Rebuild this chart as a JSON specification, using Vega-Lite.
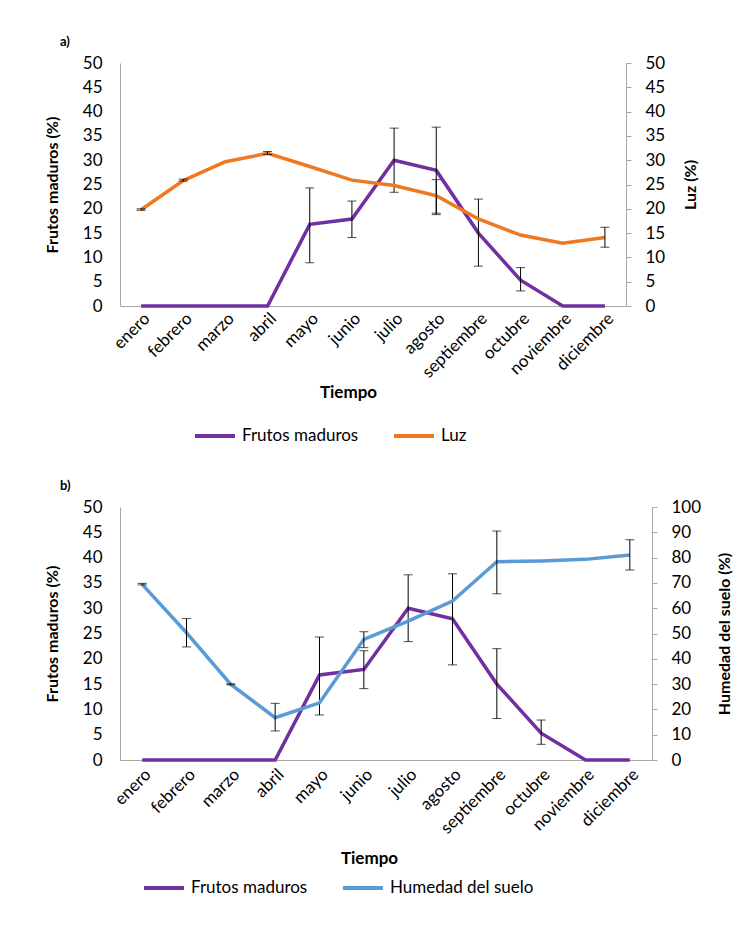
{
  "$schema": "https://vega.github.io/schema/vega-lite/v6.json",
  "background": "white",
  "padding": {"left": 44, "top": 36, "right": 5, "bottom": 5},
  "spacing": 36,
  "config": {
    "font": "Lato",
    "view": {"stroke": null},
    "axis": {
      "labelFont": "Lato", "titleFont": "Lato", "labelFontSize": 17, "titleFontSize": 16,
      "labelColor": "#000", "titleColor": "#000", "titleFontWeight": "bold",
      "grid": false, "domainColor": "#a6a6a6", "tickColor": "#a6a6a6", "labelOverlap": false
    },
    "legend": {
      "orient": "none", "direction": "horizontal", "symbolType": "stroke",
      "symbolStrokeWidth": 4, "symbolSize": 1600, "labelFont": "Lato", "labelFontSize": 17,
      "labelColor": "#000", "columnPadding": 27, "labelOffset": 5, "title": null
    },
    "title": {"anchor": "start", "frame": "group", "font": "Lato", "fontSize": 13, "fontWeight": "bold", "dx": -60, "offset": 5, "color": "#000"}
  },
  "datasets": {
    "main": [
      {"mes": "enero", "frutos": 0, "luz": 19.8, "humedad": 69.4},
      {"mes": "febrero", "frutos": 0, "luz": 25.8, "humedad": 50.3},
      {"mes": "marzo", "frutos": 0, "luz": 29.7, "humedad": 29.9},
      {"mes": "abril", "frutos": 0, "luz": 31.4, "humedad": 16.7},
      {"mes": "mayo", "frutos": 16.8, "luz": 28.7, "humedad": 22.6},
      {"mes": "junio", "frutos": 17.9, "luz": 25.9, "humedad": 47.7},
      {"mes": "julio", "frutos": 30.0, "luz": 24.8, "humedad": 54.9},
      {"mes": "agosto", "frutos": 27.9, "luz": 22.7, "humedad": 62.8},
      {"mes": "septiembre", "frutos": 15.0, "luz": 17.9, "humedad": 78.4},
      {"mes": "octubre", "frutos": 5.3, "luz": 14.6, "humedad": 78.7},
      {"mes": "noviembre", "frutos": 0, "luz": 12.9, "humedad": 79.3},
      {"mes": "diciembre", "frutos": 0, "luz": 14.1, "humedad": 81.0}
    ],
    "frutos_err": [
      {"mes": "mayo", "lo": 8.9, "hi": 24.3},
      {"mes": "junio", "lo": 14.1, "hi": 21.6},
      {"mes": "julio", "lo": 23.4, "hi": 36.6},
      {"mes": "agosto", "lo": 18.8, "hi": 36.8},
      {"mes": "septiembre", "lo": 8.2, "hi": 22.0},
      {"mes": "octubre", "lo": 3.1, "hi": 7.9}
    ],
    "luz_err": [
      {"mes": "enero", "lo": 19.7, "hi": 20.0},
      {"mes": "febrero", "lo": 25.7, "hi": 26.1},
      {"mes": "abril", "lo": 31.2, "hi": 31.8},
      {"mes": "agosto", "lo": 19.1, "hi": 26.0},
      {"mes": "diciembre", "lo": 12.1, "hi": 16.2}
    ],
    "hum_err": [
      {"mes": "enero", "lo": 69.2, "hi": 69.8},
      {"mes": "febrero", "lo": 44.7, "hi": 55.9},
      {"mes": "marzo", "lo": 29.7, "hi": 30.1},
      {"mes": "abril", "lo": 11.5, "hi": 22.4},
      {"mes": "junio", "lo": 44.4, "hi": 50.7},
      {"mes": "septiembre", "lo": 65.7, "hi": 90.5},
      {"mes": "diciembre", "lo": 75.1, "hi": 87.1}
    ]
  },
  "vconcat": [
    {
      "width": 506, "height": 243,
      "title": {"text": "a)"},
      "layer": [
        {
          "layer": [
            {
              "data": {"name": "main"},
              "mark": {"type": "line", "strokeWidth": 3.5},
              "encoding": {
                "x": {"field": "mes", "type": "ordinal", "scale": {"type": "point", "padding": 0.5, "domain": ["enero","febrero","marzo","abril","mayo","junio","julio","agosto","septiembre","octubre","noviembre","diciembre"]},
                      "axis": {"title": "Tiempo", "labelAngle": 315, "ticks": false, "labelPadding": 4, "titleFontSize": 17, "titlePadding": 4, "titleX": 228}},
                "y": {"field": "frutos", "type": "quantitative", "scale": {"domain": [0, 50]},
                      "axis": {"title": "Frutos maduros (%)", "values": [0,5,10,15,20,25,30,35,40,45,50], "ticks": false, "tickSize": 0, "labelPadding": 18, "titlePadding": 22}},
                "color": {"datum": "Frutos maduros", "scale": {"domain": ["Frutos maduros", "Luz"], "range": ["#7030A0", "#F07820"]},
                          "legend": {"legendX": 73, "legendY": 351}}
              }
            },
            {
              "data": {"name": "frutos_err"},
              "mark": {"type": "rule", "color": "#000", "strokeWidth": 1},
              "encoding": {
                "x": {"field": "mes", "type": "ordinal"},
                "y": {"field": "lo", "type": "quantitative", "axis": {"title": "Frutos maduros (%)", "values": [0,5,10,15,20,25,30,35,40,45,50], "ticks": false, "tickSize": 0, "labelPadding": 18, "titlePadding": 22}},
                "y2": {"field": "hi"}
              }
            },
            {
              "data": {"name": "frutos_err"},
              "mark": {"type": "tick", "color": "#000", "thickness": 1, "size": 9},
              "encoding": {"x": {"field": "mes", "type": "ordinal"}, "y": {"field": "lo", "type": "quantitative", "axis": {"title": "Frutos maduros (%)", "values": [0,5,10,15,20,25,30,35,40,45,50], "ticks": false, "tickSize": 0, "labelPadding": 18, "titlePadding": 22}}}
            },
            {
              "data": {"name": "frutos_err"},
              "mark": {"type": "tick", "color": "#000", "thickness": 1, "size": 9},
              "encoding": {"x": {"field": "mes", "type": "ordinal"}, "y": {"field": "hi", "type": "quantitative", "axis": {"title": "Frutos maduros (%)", "values": [0,5,10,15,20,25,30,35,40,45,50], "ticks": false, "tickSize": 0, "labelPadding": 18, "titlePadding": 22}}}
            }
          ]
        },
        {
          "layer": [
            {
              "data": {"name": "main"},
              "mark": {"type": "line", "strokeWidth": 3.5},
              "encoding": {
                "x": {"field": "mes", "type": "ordinal"},
                "y": {"field": "luz", "type": "quantitative", "scale": {"domain": [0, 50]},
                      "axis": {"orient": "right", "title": "Luz (%)", "values": [0,5,10,15,20,25,30,35,40,45,50], "tickSize": 5, "labelPadding": 14, "titlePadding": 34, "titleAngle": 270}},
                "color": {"datum": "Luz"}
              }
            },
            {
              "data": {"name": "luz_err"},
              "mark": {"type": "rule", "color": "#000", "strokeWidth": 1},
              "encoding": {
                "x": {"field": "mes", "type": "ordinal"},
                "y": {"field": "lo", "type": "quantitative", "axis": {"orient": "right", "title": "Luz (%)", "values": [0,5,10,15,20,25,30,35,40,45,50], "tickSize": 5, "labelPadding": 14, "titlePadding": 34, "titleAngle": 270}},
                "y2": {"field": "hi"}
              }
            },
            {
              "data": {"name": "luz_err"},
              "mark": {"type": "tick", "color": "#000", "thickness": 1, "size": 9},
              "encoding": {"x": {"field": "mes", "type": "ordinal"}, "y": {"field": "lo", "type": "quantitative", "axis": {"orient": "right", "title": "Luz (%)", "values": [0,5,10,15,20,25,30,35,40,45,50], "tickSize": 5, "labelPadding": 14, "titlePadding": 34, "titleAngle": 270}}}
            },
            {
              "data": {"name": "luz_err"},
              "mark": {"type": "tick", "color": "#000", "thickness": 1, "size": 9},
              "encoding": {"x": {"field": "mes", "type": "ordinal"}, "y": {"field": "hi", "type": "quantitative", "axis": {"orient": "right", "title": "Luz (%)", "values": [0,5,10,15,20,25,30,35,40,45,50], "tickSize": 5, "labelPadding": 14, "titlePadding": 34, "titleAngle": 270}}}
            }
          ]
        }
      ],
      "resolve": {"scale": {"y": "independent"}}
    },
    {
      "width": 532, "height": 253,
      "title": {"text": "b)"},
      "layer": [
        {
          "layer": [
            {
              "data": {"name": "main"},
              "mark": {"type": "line", "strokeWidth": 3.5},
              "encoding": {
                "x": {"field": "mes", "type": "ordinal", "scale": {"type": "point", "padding": 0.5, "domain": ["enero","febrero","marzo","abril","mayo","junio","julio","agosto","septiembre","octubre","noviembre","diciembre"]},
                      "axis": {"title": "Tiempo", "labelAngle": 315, "ticks": false, "labelPadding": 6, "titleFontSize": 17, "titlePadding": 14, "titleX": 249}},
                "y": {"field": "frutos", "type": "quantitative", "scale": {"domain": [0, 50]},
                      "axis": {"title": "Frutos maduros (%)", "values": [0,5,10,15,20,25,30,35,40,45,50], "ticks": false, "tickSize": 0, "labelPadding": 18, "titlePadding": 22}},
                "color": {"datum": "Frutos maduros", "scale": {"domain": ["Frutos maduros", "Humedad del suelo"], "range": ["#7030A0", "#5B9BD5"]},
                          "legend": {"legendX": 22, "legendY": 359}}
              }
            },
            {
              "data": {"name": "frutos_err"},
              "mark": {"type": "rule", "color": "#000", "strokeWidth": 1},
              "encoding": {
                "x": {"field": "mes", "type": "ordinal"},
                "y": {"field": "lo", "type": "quantitative", "axis": {"title": "Frutos maduros (%)", "values": [0,5,10,15,20,25,30,35,40,45,50], "ticks": false, "tickSize": 0, "labelPadding": 18, "titlePadding": 22}},
                "y2": {"field": "hi"}
              }
            },
            {
              "data": {"name": "frutos_err"},
              "mark": {"type": "tick", "color": "#000", "thickness": 1, "size": 9},
              "encoding": {"x": {"field": "mes", "type": "ordinal"}, "y": {"field": "lo", "type": "quantitative", "axis": {"title": "Frutos maduros (%)", "values": [0,5,10,15,20,25,30,35,40,45,50], "ticks": false, "tickSize": 0, "labelPadding": 18, "titlePadding": 22}}}
            },
            {
              "data": {"name": "frutos_err"},
              "mark": {"type": "tick", "color": "#000", "thickness": 1, "size": 9},
              "encoding": {"x": {"field": "mes", "type": "ordinal"}, "y": {"field": "hi", "type": "quantitative", "axis": {"title": "Frutos maduros (%)", "values": [0,5,10,15,20,25,30,35,40,45,50], "ticks": false, "tickSize": 0, "labelPadding": 18, "titlePadding": 22}}}
            }
          ]
        },
        {
          "layer": [
            {
              "data": {"name": "main"},
              "mark": {"type": "line", "strokeWidth": 3.5},
              "encoding": {
                "x": {"field": "mes", "type": "ordinal"},
                "y": {"field": "humedad", "type": "quantitative", "scale": {"domain": [0, 100]},
                      "axis": {"orient": "right", "title": "Humedad del suelo (%)", "values": [0,10,20,30,40,50,60,70,80,90,100], "tickSize": 5, "labelPadding": 14, "titlePadding": 32, "titleAngle": 270}},
                "color": {"datum": "Humedad del suelo"}
              }
            },
            {
              "data": {"name": "hum_err"},
              "mark": {"type": "rule", "color": "#000", "strokeWidth": 1},
              "encoding": {
                "x": {"field": "mes", "type": "ordinal"},
                "y": {"field": "lo", "type": "quantitative", "axis": {"orient": "right", "title": "Humedad del suelo (%)", "values": [0,10,20,30,40,50,60,70,80,90,100], "tickSize": 5, "labelPadding": 14, "titlePadding": 32, "titleAngle": 270}},
                "y2": {"field": "hi"}
              }
            },
            {
              "data": {"name": "hum_err"},
              "mark": {"type": "tick", "color": "#000", "thickness": 1, "size": 9},
              "encoding": {"x": {"field": "mes", "type": "ordinal"}, "y": {"field": "lo", "type": "quantitative", "axis": {"orient": "right", "title": "Humedad del suelo (%)", "values": [0,10,20,30,40,50,60,70,80,90,100], "tickSize": 5, "labelPadding": 14, "titlePadding": 32, "titleAngle": 270}}}
            },
            {
              "data": {"name": "hum_err"},
              "mark": {"type": "tick", "color": "#000", "thickness": 1, "size": 9},
              "encoding": {"x": {"field": "mes", "type": "ordinal"}, "y": {"field": "hi", "type": "quantitative", "axis": {"orient": "right", "title": "Humedad del suelo (%)", "values": [0,10,20,30,40,50,60,70,80,90,100], "tickSize": 5, "labelPadding": 14, "titlePadding": 32, "titleAngle": 270}}}
            }
          ]
        }
      ],
      "resolve": {"scale": {"y": "independent"}}
    }
  ],
  "resolve": {"scale": {"color": "independent"}, "legend": {"color": "independent"}}
}
